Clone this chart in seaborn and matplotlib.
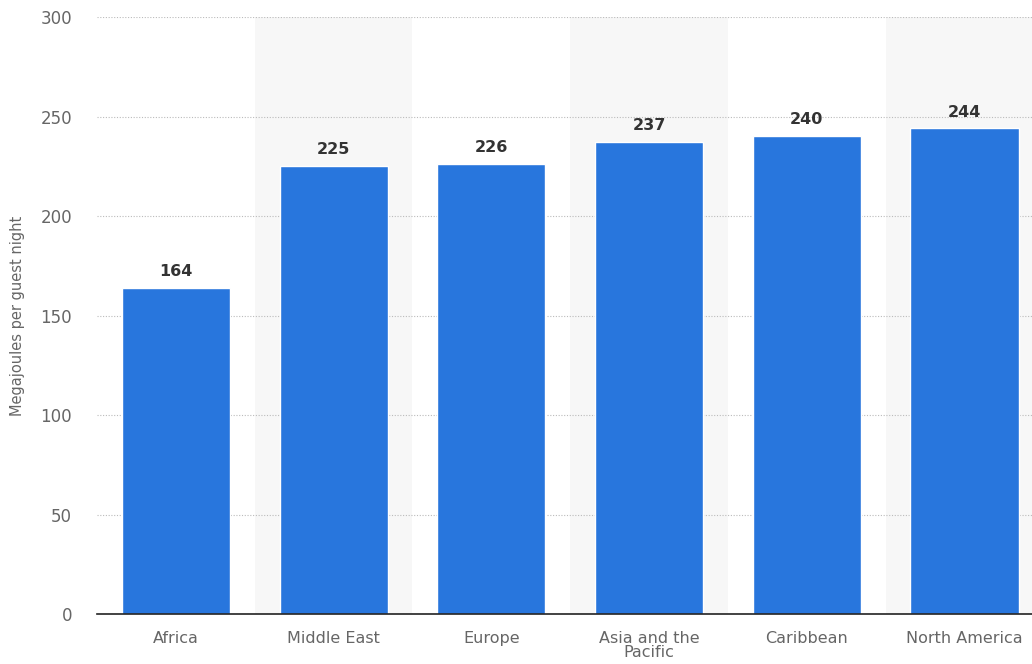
import matplotlib
matplotlib.use('Agg')
import matplotlib.pyplot as plt
import seaborn as sns
import pandas as pd

##################################################################
regions = ['Africa', 'Middle East', 'Europe', 'Asia and the\nPacific', 'Caribbean', 'North America']
energy = [164, 225, 226, 237, 240, 244]
yticks = [0, 50, 100, 150, 200, 250, 300]
##################################################################

df = pd.DataFrame({'Region': regions, 'Energy': energy})

sns.set_style('white')
plt.rcParams['font.family'] = ['DejaVu Sans']

fig = plt.figure(figsize=[10.32, 6.64], dpi=100)
ax = fig.add_axes([0.094, 0.0753, 0.917, 0.899])

# light shading behind every second category
for i in range(len(regions)):
    if i % 2 == 1:
        ax.axvspan(i - 0.5, i + 0.5, color='#f7f7f7', zorder=0, lw=0)

sns.barplot(x='Region', y='Energy', data=df, color='#2876dd', saturation=1,
            width=0.685, ax=ax, zorder=3)

for i, v in enumerate(energy):
    ax.text(i, v + 4.5, '%d' % v, ha='center', va='bottom', fontsize=11.5,
            fontweight='bold', color='#333333', zorder=4)

ax.set_ylim(0, 300)
ax.set_xlim(-0.5, len(regions) - 0.5)
ax.set_yticks(yticks)
ax.yaxis.grid(True, linestyle=(0, (1, 1.5)), color='#bbbbbb', lw=0.8, zorder=1)
ax.set_axisbelow(True)

for s in ['top', 'right', 'left']:
    ax.spines[s].set_visible(False)
ax.spines['bottom'].set_color('#222222')
ax.spines['bottom'].set_linewidth(1.2)
ax.spines['bottom'].set_zorder(5)

ax.tick_params(axis='x', length=0, labelsize=11.5, labelcolor='#666666', pad=12)
ax.tick_params(axis='y', length=0, labelsize=12, labelcolor='#666666', pad=18)

ax.set_xlabel('')
ax.set_ylabel('Megajoules per guest night', fontsize=10.5, color='#666666', labelpad=11)
for lab in ax.get_xticklabels():
    lab.set_linespacing(0.95)

plt.savefig('out.png', dpi=100)
